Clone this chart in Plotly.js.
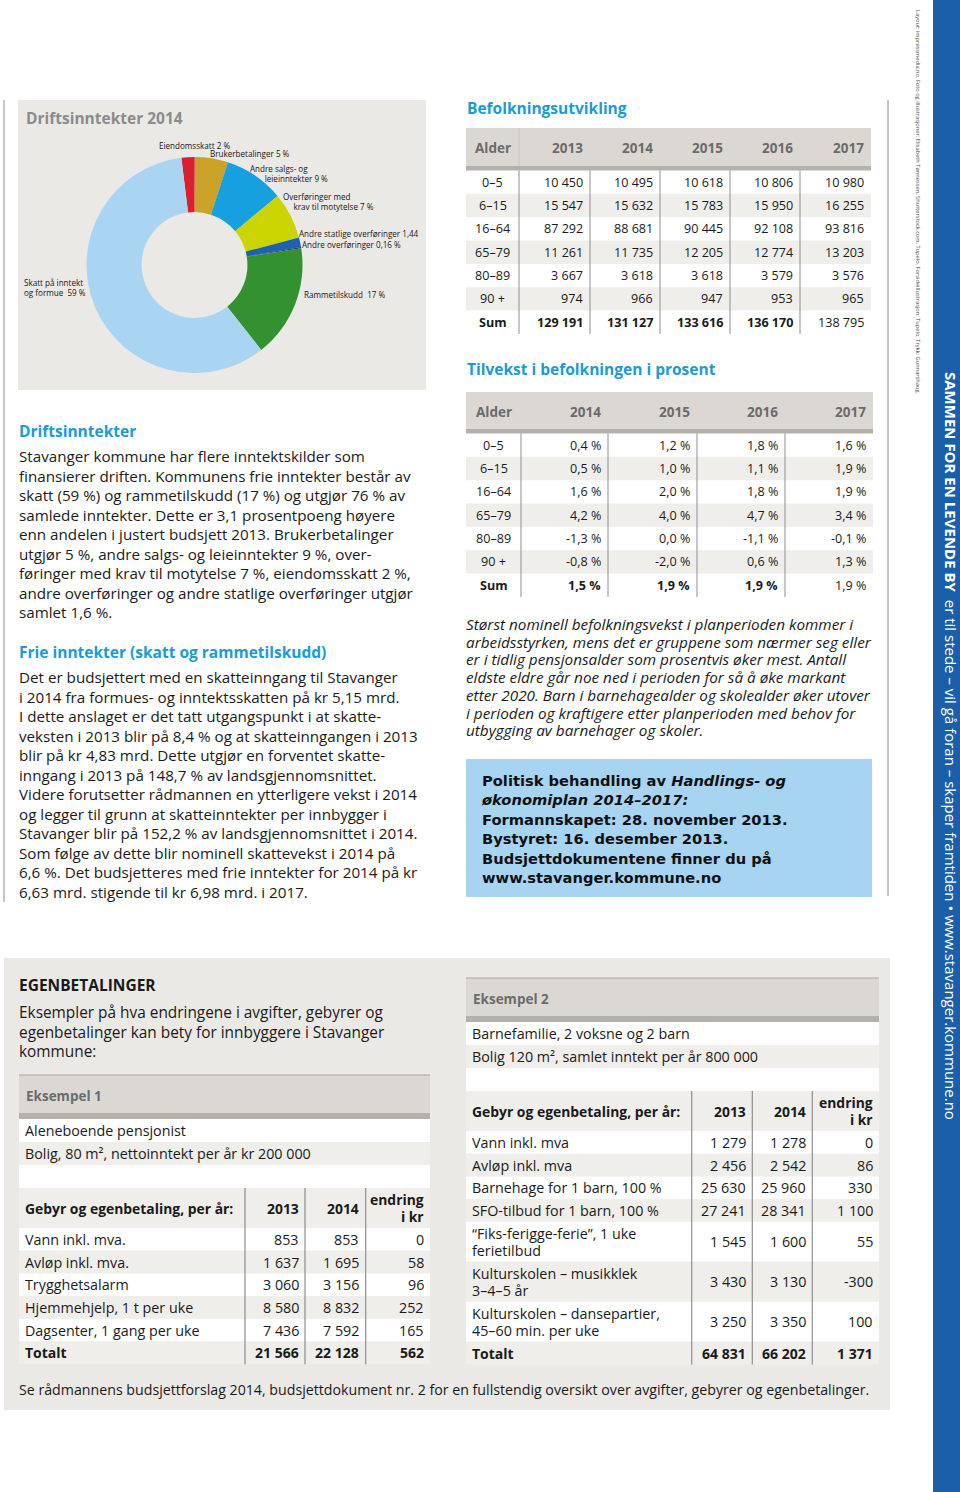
<!DOCTYPE html>
<html><head><meta charset="utf-8">
<script src="https://cdn.plot.ly/plotly-3.0.1.min.js"></script>
<style>html,body{margin:0;padding:0;background:#fff;}#page{width:960px;height:1492px;}</style>
</head><body><div id="page"></div>
<script>
// ================= DATA =================
const incomeNames = ['Eiendomsskatt', 'Brukerbetalinger', 'Andre salgs- og leieinntekter', 'Overføringer med krav til motytelse', 'Andre statlige overføringer', 'Andre overføringer', 'Rammetilskudd', 'Skatt på inntekt og formue'];
const incomeShares = [2, 5, 9, 7, 1.44, 0.16, 17, 59];
const incomeLabelLines = [
  ['Eiendomsskatt 2 %'], ['Brukerbetalinger 5 %'], ['Andre salgs- og', 'leieinntekter 9 %'],
  ['Overføringer med', 'krav til motytelse 7 %'], ['Andre statlige overføringer 1,44'],
  ['Andre overføringer 0,16 %'], ['Rammetilskudd\u00a0 17 %'], ['Skatt på inntekt', 'og formue\u00a0 59 %']];

const popYears = ['2013', '2014', '2015', '2016', '2017'];
const ageGroups = ['0–5', '6–15', '16–64', '65–79', '80–89', '90 +', 'Sum'];
const pop2013 = [10450, 15547, 87292, 11261, 3667, 974, 129191];
const pop2014 = [10495, 15632, 88681, 11735, 3618, 966, 131127];
const pop2015 = [10618, 15783, 90445, 12205, 3618, 947, 133616];
const pop2016 = [10806, 15950, 92108, 12774, 3579, 953, 136170];
const pop2017 = [10980, 16255, 93816, 13203, 3576, 965, 138795];

const growthYears = ['2014', '2015', '2016', '2017'];
const growth2014 = [0.4, 0.5, 1.6, 4.2, -1.3, -0.8, 1.5];
const growth2015 = [1.2, 1.0, 2.0, 4.0, 0.0, -2.0, 1.9];
const growth2016 = [1.8, 1.1, 1.8, 4.7, -1.1, 0.6, 1.9];
const growth2017 = [1.6, 1.9, 1.9, 3.4, -0.1, 1.3, 1.9];

const feeHeader = ['Gebyr og egenbetaling, per år:', '2013', '2014', 'endring<br>i kr'];

const ex1Title = 'Eksempel 1';
const ex1Desc = ['Aleneboende pensjonist', 'Bolig, 80 m², nettoinntekt per år kr 200 000'];
const ex1Items = ['Vann inkl. mva.', 'Avløp inkl. mva.', 'Trygghetsalarm', 'Hjemmehjelp, 1 t per uke', 'Dagsenter, 1 gang per uke', 'Totalt'];
const ex1Fee2013 = [853, 1637, 3060, 8580, 7436, 21566];
const ex1Fee2014 = [853, 1695, 3156, 8832, 7592, 22128];
const ex1Change = [0, 58, 96, 252, 165, 562];

const ex2Title = 'Eksempel 2';
const ex2Desc = ['Barnefamilie, 2 voksne og 2 barn', 'Bolig 120 m², samlet inntekt per år 800 000'];
const ex2Items = ['Vann inkl. mva', 'Avløp inkl. mva', 'Barnehage for 1 barn, 100 %', 'SFO-tilbud for 1 barn, 100 %',
  '“Fiks-ferigge-ferie”, 1 uke<br>ferietilbud', 'Kulturskolen – musikklek<br>3–4–5 år',
  'Kulturskolen – dansepartier,<br>45–60 min. per uke', 'Totalt'];
const ex2Fee2013 = [1279, 2456, 25630, 27241, 1545, 3430, 3250, 64831];
const ex2Fee2014 = [1278, 2542, 25960, 28341, 1600, 3130, 3350, 66202];
const ex2Change = [0, 86, 330, 1100, 55, -300, 100, 1371];

const driftTitle = 'Driftsinntekter 2014';
const driftText = ['Stavanger kommune har flere inntektskilder som',
  'finansierer driften. Kommunens frie inntekter består av',
  'skatt (59 %) og rammetilskudd (17 %) og utgjør 76 % av',
  'samlede inntekter. Dette er 3,1 prosentpoeng høyere',
  'enn andelen i justert budsjett 2013. Brukerbetalinger',
  'utgjør 5 %, andre salgs- og leieinntekter 9 %, over-',
  'føringer med krav til motytelse 7 %, eiendomsskatt 2 %,',
  'andre overføringer og andre statlige overføringer utgjør',
  'samlet 1,6 %.'];
const frieText = ['Det er budsjettert med en skatteinngang til Stavanger',
  'i 2014 fra formues- og inntektsskatten på kr 5,15 mrd.',
  'I dette anslaget er det tatt utgangspunkt i at skatte-',
  'veksten i 2013 blir på 8,4 % og at skatteinngangen i 2013',
  'blir på kr 4,83 mrd. Dette utgjør en forventet skatte-',
  'inngang i 2013 på 148,7 % av landsgjennomsnittet.',
  'Videre forutsetter rådmannen en ytterligere vekst i 2014',
  'og legger til grunn at skatteinntekter per innbygger i',
  'Stavanger blir på 152,2 % av landsgjennomsnittet i 2014.',
  'Som følge av dette blir nominell skattevekst i 2014 på',
  '6,6 %. Det budsjetteres med frie inntekter for 2014 på kr',
  '6,63 mrd. stigende til kr 6,98 mrd. i 2017.'];
const growthText = ['Størst nominell befolkningsvekst i planperioden kommer i',
  'arbeidsstyrken, mens det er gruppene som nærmer seg eller',
  'er i tidlig pensjonsalder som prosentvis øker mest. Antall',
  'eldste eldre går noe ned i perioden for så å øke markant',
  'etter 2020. Barn i barnehagealder og skolealder øker utover',
  'i perioden og kraftigere etter planperioden med behov for',
  'utbygging av barnehager og skoler.'];
const politicsText = ['Politisk behandling av <i>Handlings- og</i>', '<i>økonomiplan 2014–2017:</i>',
  'Formannskapet: 28. november 2013.', 'Bystyret: 16. desember 2013.',
  'Budsjettdokumentene finner du på', 'www.stavanger.kommune.no'];
const egenText = ['Eksempler på hva endringene i avgifter, gebyrer og',
  'egenbetalinger kan bety for innbyggere i Stavanger', 'kommune:'];
const footerText = 'Se rådmannens budsjettforslag 2014, budsjettdokument nr. 2 for en fullstendig oversikt over avgifter, gebyrer og egenbetalinger.';
const sloganBold = 'SAMMEN FOR EN LEVENDE BY';
const sloganRest = 'er til stede – vil gå foran – skaper framtiden • www.stavanger.kommune.no';
const creditText = 'Layout: impressmedia.no. Foto og illustrasjoner: Elisabeth Tønnessen, Shutterstock.com, Tupelo. Forsideillustrasjon: Tupelo. Trykk: Gunnarshaug.';

// ================= STYLE / LAYOUT =================
const FONT = '"Open Sans", "Noto Sans", sans-serif';
const HEAVY = '"DejaVu Sans", "Open Sans", sans-serif';
const INK = '#1a1a1a', BLUE = '#1b9ad6', HEAD = '#6b6b6b';
const PANEL = '#ebe9e5', BAND = '#dbd8d3', STRIP = '#b4b1ac', ROWGREY = '#efeeeb', RULE = '#8e8e8e';
const incomeColors = ['#dc1f30', '#c9a227', '#16a0e0', '#cbd400', '#1c62b0', '#173a70', '#33922f', '#a9d5f2'];
// label anchor (left x, first line y) and indent (px) of continuation lines
const labelAt = [[158.7, 145, 0], [210, 154, 0], [250, 169, 15], [283, 196.7, 10],
  [299, 233.3, 0], [302, 244, 0], [304, 294, 0], [24, 282.7, 0]];

const W = 960, H = 1492;
const shapes = [], annotations = [];
const px = x => x / W, py = y => 1 - y / H;
function box(x0, y0, x1, y1, fill) {
  shapes.push({type: 'rect', xref: 'paper', yref: 'paper', x0: px(x0), x1: px(x1), y0: py(y1), y1: py(y0),
    fillcolor: fill, line: {width: 0}, layer: 'below'});
}
function seg(x0, y0, x1, y1, color, width) {
  shapes.push({type: 'line', xref: 'paper', yref: 'paper', x0: px(x0), x1: px(x1), y0: py(y0), y1: py(y1),
    line: {color: color, width: width || 1}, layer: 'below'});
}
function label(text, x, y, o) {
  o = o || {};
  const xa = o.xa || 'left';
  annotations.push({xref: 'paper', yref: 'paper', x: px(x), y: py(y), text: text, showarrow: false,
    xanchor: xa, yanchor: o.ya || 'middle', align: xa,
    font: {family: o.family || FONT, size: o.size || 15, color: o.color || INK},
    textangle: o.angle || 0, borderpad: 0, borderwidth: 0});
}
// multi-line text block: glyph size `size`, line pitch `step` (Plotly pitch = 1.3 x base size)
function block(arr, x, yFirst, step, size, o) {
  o = Object.assign({}, o || {});
  const txt = arr.map(t => '<span style="font-size:' + size + 'px">' + t + '</span>').join('<br>');
  o.size = step / 1.3;
  label(txt, x, yFirst + (arr.length - 1) * step / 2, o);
}
function kr(v) {
  const s = Math.abs(v).toString().replace(/\B(?=(\d{3})+(?!\d))/g, ' ');
  return (v < 0 ? '-' : '') + s;
}
function pct(v) { return v.toFixed(1).replace('.', ',') + ' %'; }

// ---------- page frame ----------
box(18, 100, 426, 390, PANEL);                 // donut panel
box(4, 958, 890, 1410, PANEL);                 // egenbetalinger panel
box(933, 0, 960, H, '#1b5eaa');                // right band
seg(4, 100, 4, 902, '#8a8a8a', 1);
seg(888, 100, 888, 896, '#8a8a8a', 1);
box(466, 759, 872, 897, '#a7d4f1');            // politics box

// ---------- donut labels ----------
label('<b>' + driftTitle + '</b>', 26, 118, {size: 15.5, color: '#8b8b8b'});
incomeLabelLines.forEach((ls, i) => {
  const pad = '\u00a0'.repeat(Math.round(labelAt[i][2] / 2.1));
  block(ls.map((t, j) => (j > 0 ? pad : '') + t), labelAt[i][0], labelAt[i][1], 9.5, 8.1, {color: '#161616'});
});

// ---------- left texts ----------
label('<b>Driftsinntekter</b>', 19, 431, {size: 15.5, color: BLUE});
block(driftText, 19, 456, 19.5, 15.2);
label('<b>Frie inntekter (skatt og rammetilskudd)</b>', 19, 652, {size: 15.5, color: BLUE});
block(frieText, 19, 677, 19.5, 15.2);

// ---------- population tables ----------
function popTable(o) {
  const b = o.bounds, L = b[0], R = b[b.length - 1];
  box(L, o.top, R, o.top + o.headH, BAND);
  box(L, o.top + o.headH, R, o.top + o.headH + o.stripH, STRIP);
  if (o.headRule) seg(b[1], o.top, b[1], o.top + o.headH, '#c6c3bd', 1);
  const hy = o.top + o.headH * 0.53;
  o.heads.forEach((h, c) => {
    if (c === 0) label('<b>' + h + '</b>', (b[0] + b[1]) / 2, hy, {xa: 'center', size: 13.5, color: HEAD});
    else label('<b>' + h + '</b>', b[c + 1] - 7, hy, {xa: 'right', size: 13.5, color: HEAD});
  });
  const y0 = o.top + o.headH + o.stripH, n = o.cols[0].length;
  for (let r = 0; r < n; r++) {
    const yt = y0 + r * o.rowH;
    if (r % 2 === 1) box(L, yt, R, yt + o.rowH, ROWGREY);
    o.cols.forEach((col, c) => {
      const bold = r === n - 1 && c < o.cols.length - 1;
      const t = bold ? '<b>' + col[r] + '</b>' : col[r];
      if (c === 0) label(t, (b[0] + b[1]) / 2, yt + o.rowH / 2, {xa: 'center', size: 12.6});
      else label(t, b[c + 1] - 7, yt + o.rowH / 2, {xa: 'right', size: 12.6});
    });
  }
  for (let i = 1; i < b.length - 1; i++) seg(b[i], y0, b[i], y0 + n * o.rowH, RULE, 1);
}
label('<b>Befolkningsutvikling</b>', 467, 108, {size: 15.5, color: BLUE});
popTable({top: 128, headH: 38, stripH: 4.5, rowH: 23.35, bounds: [466, 519, 590, 660, 730, 800, 871], headRule: true,
  heads: ['Alder'].concat(popYears),
  cols: [ageGroups].concat([pop2013, pop2014, pop2015, pop2016, pop2017].map(a => a.map(kr)))});
label('<b>Tilvekst i befolkningen i prosent</b>', 467, 369, {size: 15.5, color: BLUE});
popTable({top: 392, headH: 37, stripH: 4.5, rowH: 23.35, bounds: [466, 521, 608, 697, 785, 873],
  heads: ['Alder'].concat(growthYears),
  cols: [ageGroups].concat([growth2014, growth2015, growth2016, growth2017].map(a => a.map(pct)))});

block(growthText.map(t => '<i>' + t + '</i>'), 466, 624, 17.7, 15.3);
block(politicsText.map(t => '<b>' + t + '</b>'), 481, 780, 19.45, 14.7, {family: HEAVY, color: '#111111'});

// ---------- egenbetalinger ----------
label('<b>EGENBETALINGER</b>', 19, 985, {size: 15.5});
block(egenText, 19, 1012, 19.5, 15.4);

function feeTable(o) {
  const b = o.bounds, L = b[0], R = b[b.length - 1];
  let y = o.top;
  box(L, y, R, y + 38, BAND);
  seg(L, y, R, y, '#a9a6a1', 1.2);
  label('<b>' + o.title + '</b>', L + 7, y + 20.5, {size: 13.5, color: HEAD});
  y += 38;
  box(L, y, R, y + 6, STRIP); y += 6;
  o.desc.concat(['']).forEach((t, i) => {
    box(L, y, R, y + 23, i % 2 === 1 ? ROWGREY : '#ffffff');
    if (t) label(t, L + 6, y + 11.8, {size: 14.3});
    y += 23;
  });
  const gridTop = y;
  const cell = (txt, c, yc, bold, size) => {
    const parts = String(txt).split('<br>').map(p => bold ? '<b>' + p + '</b>' : p);
    const step = 16.6, first = yc - (parts.length - 1) * step / 2;
    const xx = c === 0 ? L + 6 : b[c + 1] - 6.5, xa = c === 0 ? 'left' : 'right';
    if (parts.length === 1) label(parts[0], xx, yc, {xa: xa, size: size});
    else block(parts, xx, first, step, size, {xa: xa});
  };
  box(L, y, R, y + 40, ROWGREY);
  o.head.forEach((h, c) => cell(h, c, y + 20, true, 13.9));
  y += 40;
  o.items.forEach((it, r) => {
    const nl = it.split('<br>').length, h = 22.7 + (nl - 1) * 17.3;
    box(L, y, R, y + h, r % 2 === 1 ? ROWGREY : '#ffffff');
    const isTotal = r === o.items.length - 1, sz = isTotal ? 14 : 14.3;
    cell(it, 0, y + h / 2, isTotal, sz);
    cell(kr(o.v13[r]), 1, y + h / 2, isTotal, sz);
    cell(kr(o.v14[r]), 2, y + h / 2, isTotal, sz);
    cell(kr(o.chg[r]), 3, y + h / 2, isTotal, sz);
    y += h;
  });
  for (let i = 1; i < b.length - 1; i++) seg(b[i], gridTop, b[i], y, RULE, 1.2);
}
feeTable({top: 1075, bounds: [19, 245, 305, 365.7, 430], title: ex1Title, desc: ex1Desc, head: feeHeader,
  items: ex1Items, v13: ex1Fee2013, v14: ex1Fee2014, chg: ex1Change});
feeTable({top: 978, bounds: [466, 691.7, 752.3, 812.3, 879], title: ex2Title, desc: ex2Desc, head: feeHeader,
  items: ex2Items, v13: ex2Fee2013, v14: ex2Fee2014, chg: ex2Change});

label(footerText, 19, 1389, {size: 14.2});

// ---------- vertical band texts ----------
label('<b>' + sloganBold + '</b>\u00a0 ' + sloganRest, 951, 746, {xa: 'center', angle: 90, size: 15, color: '#ffffff'});
label(creditText, 918, 202, {xa: 'center', angle: 90, size: 5.7, color: '#4d4d4d'});

// ================= PLOT =================
const donut = {
  type: 'pie', labels: incomeNames, values: incomeShares, sort: false, direction: 'clockwise', rotation: -7,
  hole: 0.49, marker: {colors: incomeColors, line: {width: 0}}, textinfo: 'none', hoverinfo: 'skip',
  domain: {x: [px(86), px(303)], y: [py(373), py(157)]}, showlegend: false
};
Plotly.newPlot('page', [donut], {
  width: W, height: H, margin: {l: 0, r: 0, t: 0, b: 0}, paper_bgcolor: '#ffffff',
  font: {family: FONT, color: INK}, showlegend: false, shapes: shapes, annotations: annotations
}, {staticPlot: true, displayModeBar: false});
</script>
</body></html>
